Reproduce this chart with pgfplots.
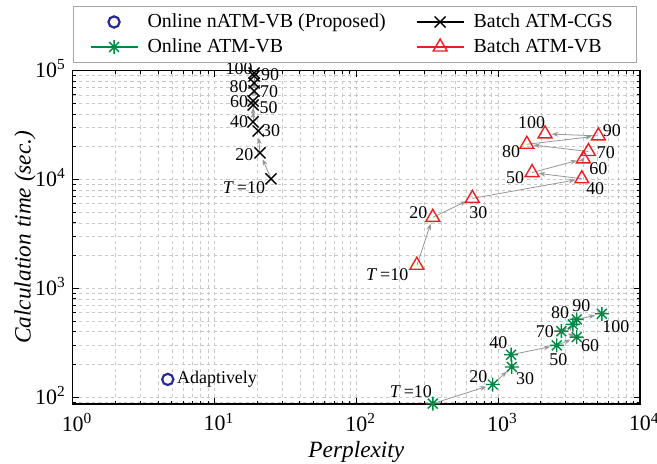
\documentclass[border=0pt]{standalone}
\usepackage{fontspec}
\setmainfont{Liberation Serif}
\usepackage{pgfplots}
\pgfplotsset{compat=1.18}
\usetikzlibrary{arrows.meta}
\definecolor{ablue}{RGB}{40,40,150}
\definecolor{agreen}{RGB}{0,135,70}
\definecolor{ared}{RGB}{235,30,35}
\definecolor{segc}{RGB}{150,150,150}
\definecolor{gridc}{RGB}{200,200,200}
\pgfdeclareplotmark{matast}{%
  \pgfpathmoveto{\pgfpoint{0pt}{\pgfplotmarksize}}\pgfpathlineto{\pgfpoint{0pt}{-\pgfplotmarksize}}%
  \pgfpathmoveto{\pgfpoint{\pgfplotmarksize}{0pt}}\pgfpathlineto{\pgfpoint{-\pgfplotmarksize}{0pt}}%
  \pgfpathmoveto{\pgfpoint{0.7071\pgfplotmarksize}{0.7071\pgfplotmarksize}}\pgfpathlineto{\pgfpoint{-0.7071\pgfplotmarksize}{-0.7071\pgfplotmarksize}}%
  \pgfpathmoveto{\pgfpoint{-0.7071\pgfplotmarksize}{0.7071\pgfplotmarksize}}\pgfpathlineto{\pgfpoint{0.7071\pgfplotmarksize}{-0.7071\pgfplotmarksize}}%
  \pgfusepathqstroke}
\pgfplotsset{
  longline legend/.style={legend image code/.code={\draw[mark repeat=2,mark phase=2,##1] plot coordinates {(0bp,0bp) (11.75bp,0bp) (23.5bp,0bp)};}},
  markonly legend/.style={legend image code/.code={\draw[##1] plot[only marks] coordinates {(11.75bp,0bp)};}},
  seg/.style={forget plot, color=segc, line width=0.4bp, -{Stealth[length=3.2bp,width=2.4bp]}, shorten >=3.4bp},
}
\tikzset{lbl/.style={font=\fontsize{9}{10}\selectfont, inner sep=0pt}}
\newcommand{\seg}[4]{\addplot[seg] coordinates {(#1,#2) (#3,#4)};}
\newcommand{\lab}[5]{\node[lbl, xshift=#3bp, yshift=#4bp] at (axis cs:#1,#2) {#5};}
\begin{document}
\begin{tikzpicture}
\begin{axis}[
  name=ax,
  scale only axis, width=283.5bp, height=166.5bp,
  xmode=log, ymode=log, log basis x=10, log basis y=10,
  xmin=1, xmax=10000, ymin=87, ymax=100000,
  xtick={1,10,100,1000,10000}, ytick={100,1000,10000,100000},
  minor xtick={2,3,4,5,6,7,8,9,20,30,40,50,60,70,80,90,200,300,400,500,600,700,800,900,2000,3000,4000,5000,6000,7000,8000,9000},
  minor ytick={90,200,300,400,500,600,700,800,900,2000,3000,4000,5000,6000,7000,8000,9000,20000,30000,40000,50000,60000,70000,80000,90000},
  grid=both,
  major grid style={color=gridc, dash pattern=on 1.6bp off 1.6bp, line width=0.35bp},
  minor grid style={color=gridc, dash pattern=on 1.6bp off 1.6bp, line width=0.35bp},
  axis line style={line width=0.7bp},
  tick style={black, line width=0.5bp},
  major tick length=3bp, minor tick length=1.6bp,
  xticklabel={\pgfmathtruncatemacro{\e}{round(\tick)}10\rlap{\textsuperscript{\e}}},
  yticklabel={\pgfmathtruncatemacro{\e}{round(\tick)}10\smash{\textsuperscript{\e}}},
  xticklabel style={font=\fontsize{11}{13}\selectfont, yshift=-1bp},
  yticklabel style={font=\fontsize{11}{13}\selectfont},
  every axis x label/.style={at={(axis description cs:0.5,-0.1441)}, anchor=center, font=\fontsize{11.7}{14}\selectfont\itshape},
  every axis y label/.style={at={(axis description cs:-0.0841,0.5)}, rotate=90, anchor=center, font=\fontsize{11.7}{14}\selectfont\itshape},
  xlabel={Perplexity},
  ylabel={Calculation time (sec.)},
  clip=false,
  legend columns=2,
  legend cell align=left,
  legend style={at={(0,1)}, anchor=south west, yshift=3.85bp, draw=gray!70, line width=0.5bp, fill=white,
    inner xsep=8.15bp, inner ysep=3.25bp, font=\fontsize{10}{12}\selectfont, row sep=3.5bp,
    nodes={inner sep=0pt, text height=7bp, text depth=2bp},
    /tikz/column 1/.style={column sep=4.5bp},
    /tikz/column 2/.style={column sep=15bp},
    /tikz/column 3/.style={column sep=4.5bp}},
]
\addlegendimage{ablue, line width=1.1bp, mark=o, mark size=2.8bp, markonly legend}
\addlegendentry{Online nATM-VB (Proposed)}
\addlegendimage{black, line width=1bp, mark=x, mark size=3.9bp, mark options={line width=0.7bp, solid}, longline legend}
\addlegendentry{Batch ATM-CGS\hspace*{4bp}}
\addlegendimage{agreen, line width=1bp, mark=matast, mark size=3.5bp, mark options={line width=0.7bp, solid}, longline legend}
\addlegendentry{Online ATM-VB}
\addlegendimage{ared, line width=1bp, mark=triangle, mark size=4bp, mark options={line width=0.7bp, solid}, longline legend}
\addlegendentry{Batch ATM-VB}

% Batch ATM-CGS segments
\seg{25.0}{10170}{20.9}{17600}
\seg{20.9}{17600}{20.3}{28000}
\seg{20.3}{28000}{18.7}{33900}
\seg{18.7}{33900}{18.7}{48500}
\seg{18.7}{48500}{18.7}{52800}
\seg{18.7}{52800}{19.0}{65200}
\seg{19.0}{65200}{19.0}{77200}
\seg{19.0}{77200}{19.0}{89400}
\seg{19.0}{89400}{19.0}{95300}
% Batch ATM-VB segments
\seg{267}{1634}{346}{4500}
\seg{346}{4500}{658}{6720}
\seg{658}{6720}{3890}{10170}
\seg{3890}{10170}{1734}{11600}
\seg{1734}{11600}{3990}{15500}
\seg{3990}{15500}{4330}{18100}
\seg{4330}{18100}{1592}{21100}
\seg{1592}{21100}{5090}{25200}
\seg{5090}{25200}{2140}{26300}
% Online ATM-VB segments
\seg{346}{87.5}{916}{131}
\seg{916}{131}{1247}{190}
\seg{1247}{190}{1233}{246}
\seg{1233}{246}{2590}{300}
\seg{2590}{300}{3580}{357}
\seg{3580}{357}{2790}{405}
\seg{2790}{405}{3360}{467}
\seg{3360}{467}{3580}{519}
\seg{3580}{519}{5380}{585}

\addplot[forget plot, only marks, ablue, mark=o, mark size=2.8bp, line width=1.1bp] coordinates {(4.68,146)};
\addplot[forget plot, only marks, black, mark=x, mark size=3.9bp, line width=0.7bp] coordinates {
(25.0,10170)(20.9,17600)(20.3,28000)(18.7,33900)(18.7,48500)(18.7,52800)(19.0,65200)(19.0,77200)(19.0,89400)(19.0,95300)};
\addplot[forget plot, only marks, agreen, mark=matast, mark size=3.5bp, line width=0.7bp] coordinates {
(346,87.5)(916,131)(1247,190)(1233,246)(2590,300)(3580,357)(2790,405)(3360,467)(3580,519)(5380,585)};
\addplot[forget plot, only marks, ared, mark=triangle, mark size=4bp, line width=0.7bp] coordinates {
(267,1634)(346,4500)(658,6720)(3890,10170)(1734,11600)(3990,15500)(4330,18100)(1592,21100)(5090,25200)(2140,26300)};

% labels CGS
\lab{19.0}{95300}{-7.5}{2}{100}
\lab{19.0}{89400}{8}{0.5}{90}
\lab{19.0}{77200}{-7.75}{-1.8}{80}
\lab{19.0}{65200}{7.5}{-0.5}{70}
\lab{18.7}{52800}{-7}{-0.5}{60}
\lab{18.7}{48500}{7.75}{-1.5}{50}
\lab{18.7}{33900}{-7}{0}{40}
\lab{20.3}{28000}{6.5}{0}{30}
\lab{20.9}{17600}{-7.75}{-1}{20}
\lab{25.0}{10170}{-13.5}{-4.5}{\textit{T}\,=10}
% labels batch VB
\lab{267}{1634}{-14.8}{-4.7}{\textit{T}\,=10}
\lab{346}{4500}{-7.2}{2.3}{20}
\lab{658}{6720}{3}{-7.3}{30}
\lab{3890}{10170}{6.7}{-4.7}{40}
\lab{1734}{11600}{-8.5}{-2.5}{50}
\lab{3990}{15500}{7.5}{-4.7}{60}
\lab{4330}{18100}{8.7}{-0.3}{70}
\lab{1592}{21100}{-7.8}{-3.7}{80}
\lab{5090}{25200}{6.7}{2.7}{90}
\lab{2140}{26300}{-6.7}{5.7}{100}
% labels online VB
\lab{346}{87.5}{-11}{5.8}{\textit{T}\,=10}
\lab{916}{131}{-7.2}{3.9}{20}
\lab{1247}{190}{6.7}{-5.8}{30}
\lab{1233}{246}{-6.4}{6}{40}
\lab{2590}{300}{0.8}{-7}{50}
\lab{3580}{357}{6.7}{-4.2}{60}
\lab{2790}{405}{-8.2}{0}{70}
\lab{3360}{467}{-6.4}{5.8}{80}
\lab{3580}{519}{2.3}{6.7}{90}
\lab{5380}{585}{7}{-6.2}{100}
% nATM label
\node[lbl, anchor=west, xshift=4.5bp] at (axis cs:4.68,146) {Adaptively};
\end{axis}
\pgfresetboundingbox
\path ([shift={(-36.35bp,-30bp)}]ax.south west) rectangle ([shift={(8.5bp,35.35bp)}]ax.north east);
\end{tikzpicture}
\end{document}
